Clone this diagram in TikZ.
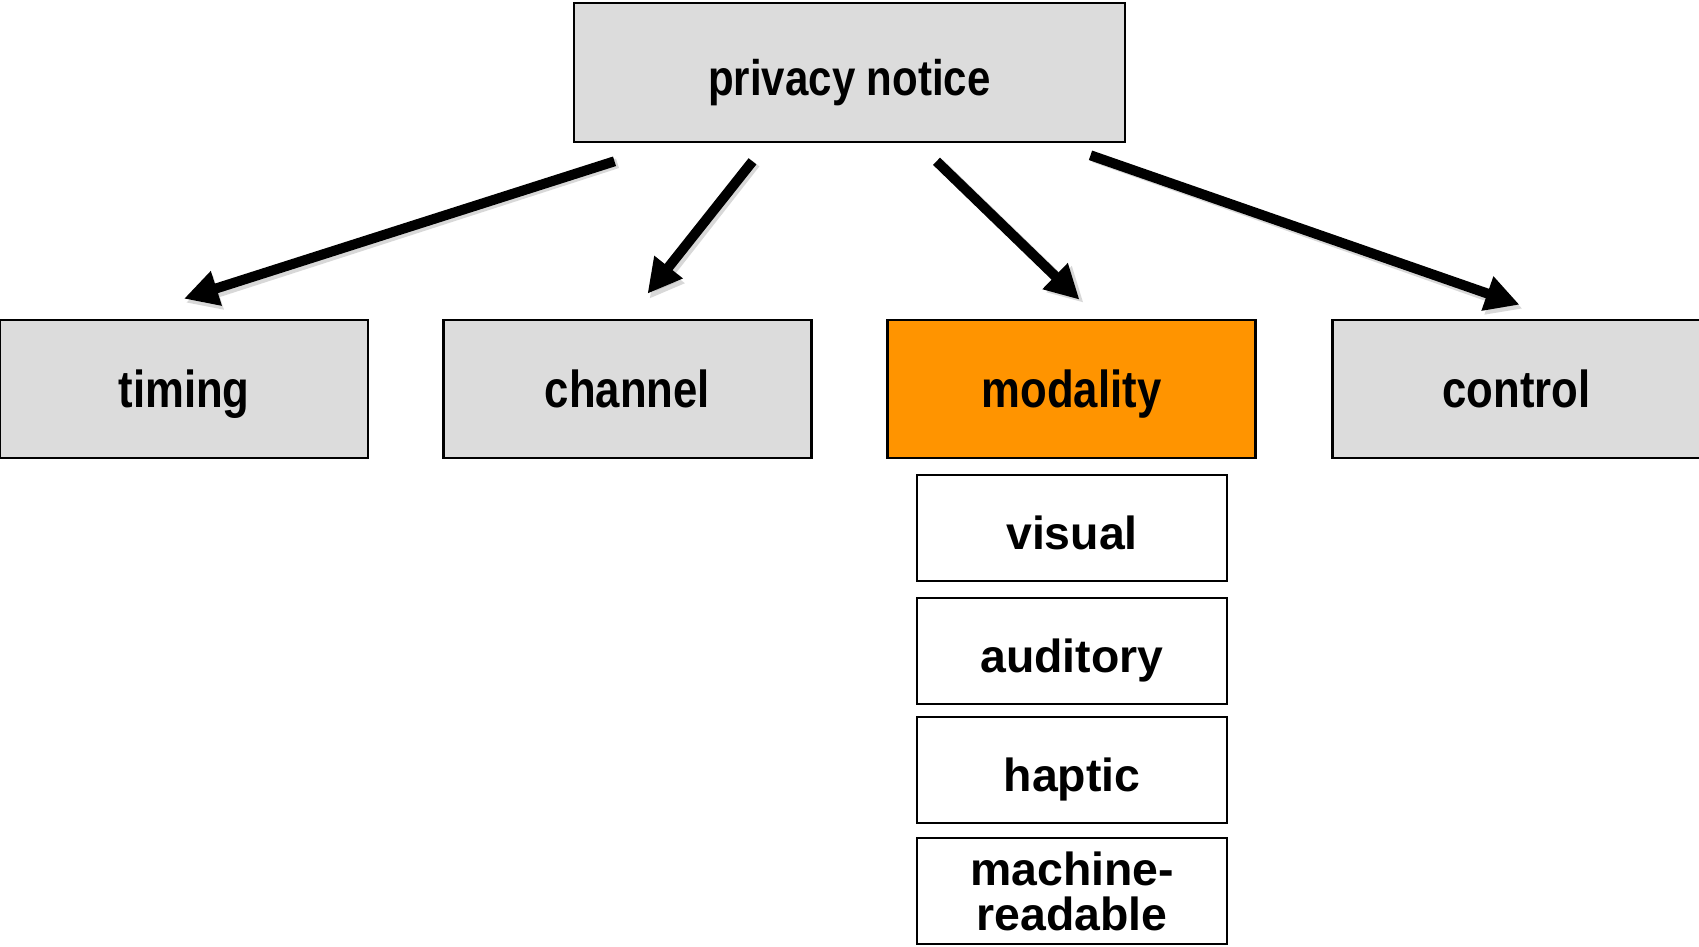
\documentclass[tikz,border=0pt]{standalone}
\usepackage{fontspec}
\setmainfont{Liberation Sans}
\newfontfamily\headfont[FakeStretch=0.84]{Liberation Sans}
\usetikzlibrary{arrows.meta}

\definecolor{boxgray}{RGB}{220,220,220}
\definecolor{modorange}{RGB}{255,148,0}

\begin{document}
\begin{tikzpicture}[x=0.5pt, y=-0.5pt,
    topbox/.style={draw=black, line width=1.3pt, fill=boxgray, minimum width=184pt,
      minimum height=69pt, inner sep=0pt, text height=23.7pt, text depth=5.2pt,
      font=\headfont\bfseries\fontsize{26pt}{28pt}\selectfont},
    subbox/.style={draw=black, line width=1.3pt, fill=white, minimum width=155pt,
      minimum height=53pt, inner sep=0pt, align=center, text height=26.2pt, text depth=4.6pt,
      font=\bfseries\fontsize{23.2pt}{22.5pt}\selectfont},
    arr/.style={line width=5pt, -{Triangle[length=17pt, width=17pt]}},
    arrshadow/.style={arr, draw=black!30, fill=black!30, opacity=0.5}]
    \useasboundingbox (0,0) rectangle (1699,947);

    % root and the four dimensions
    \node[topbox, minimum width=275.5pt, minimum height=69.5pt, text height=28.2pt, text depth=5pt,
      font=\headfont\bfseries\fontsize{25pt}{27pt}\selectfont] (notice) at (849.5,72.5) {privacy notice};
    \node[topbox] (timing) at (184,389) {timing};
    \node[topbox] (channel) at (627.5,389) {channel};
    \node[topbox, fill=modorange] (modality) at (1071.5,389) {modality};
    \node[topbox] (control) at (1516.5,389) {control};

    % modality options
    \node[subbox] (visual) at (1072,528) {visual};
    \node[subbox] (auditory) at (1072,651) {auditory};
    \node[subbox] (haptic) at (1072,770) {haptic};
    \node[subbox, text height=, text depth=] (machine) at (1072,891) {machine-\\readable};

    % arrows, with a faint shadow under each
    \draw[arrshadow] ([xshift=-116pt,yshift=-10pt]notice.south) -- ([xshift=1pt,yshift=8pt]timing.north);
    \draw[arrshadow] ([xshift=-47pt,yshift=-10pt]notice.south) -- ([xshift=11pt,yshift=10pt]channel.north);
    \draw[arrshadow] ([xshift=45pt,yshift=-10pt]notice.south) -- ([xshift=6pt,yshift=8pt]modality.north);
    \draw[arrshadow] ([xshift=122pt,yshift=-7pt]notice.south) -- ([xshift=3pt,yshift=5pt]control.north);

    \draw[arr] ([xshift=-117.5pt,yshift=-9pt]notice.south) -- ([xshift=0pt,yshift=10pt]timing.north);
    \draw[arr] ([xshift=-48.5pt,yshift=-9pt]notice.south) -- ([xshift=10pt,yshift=12.5pt]channel.north);
    \draw[arr] ([xshift=43.5pt,yshift=-9pt]notice.south) -- ([xshift=4pt,yshift=9.5pt]modality.north);
    \draw[arr] ([xshift=120.5pt,yshift=-6pt]notice.south) -- ([xshift=1.5pt,yshift=7pt]control.north);
\end{tikzpicture}
\end{document}
